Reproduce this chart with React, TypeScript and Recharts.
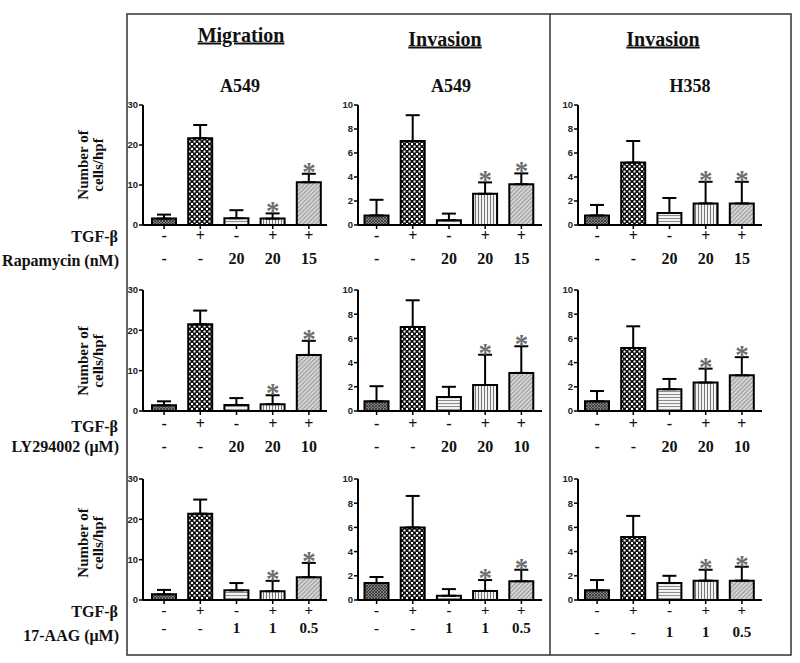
import React from 'react';
import { ComposedChart, Bar, XAxis, YAxis, ErrorBar, Line, Cell } from 'recharts';

// ---------- data ----------
const tgfSigns = ['-', '+', '-', '+', '+'];
const rapamycinDoses = ['-', '-', '20', '20', '15'];
const ly294002Doses = ['-', '-', '20', '20', '10'];
const aagDoses = ['-', '-', '1', '1', '0.5'];
const starFlags = [false, false, false, true, true];

const migRapaMean = [1.6, 21.7, 1.7, 1.6, 10.7];
const migRapaSD = [1.0, 3.3, 2.0, 1.3, 2.1];
const invA549RapaMean = [0.8, 7.0, 0.4, 2.6, 3.4];
const invA549RapaSD = [1.3, 2.15, 0.55, 0.95, 0.9];
const invH358RapaMean = [0.8, 5.2, 1.0, 1.8, 1.8];
const invH358RapaSD = [0.87, 1.8, 1.25, 1.8, 1.8];

const migLyMean = [1.4, 21.5, 1.5, 1.7, 13.9];
const migLySD = [1.0, 3.4, 1.7, 2.2, 3.5];
const invA549LyMean = [0.8, 6.95, 1.15, 2.15, 3.15];
const invA549LySD = [1.25, 2.2, 0.85, 2.5, 2.2];
const invH358LyMean = [0.8, 5.2, 1.8, 2.35, 2.95];
const invH358LySD = [0.85, 1.8, 0.85, 1.15, 1.5];

const migAagMean = [1.4, 21.4, 2.4, 2.2, 5.65];
const migAagSD = [1.1, 3.5, 1.8, 2.55, 3.55];
const invA549AagMean = [1.4, 6.0, 0.35, 0.75, 1.55];
const invA549AagSD = [0.5, 2.6, 0.55, 0.9, 0.95];
const invH358AagMean = [0.8, 5.2, 1.4, 1.6, 1.6];
const invH358AagSD = [0.85, 1.75, 0.6, 0.9, 1.15];

const migTicks = [0, 10, 20, 30];
const invTicks = [0, 2, 4, 6, 8, 10];

const rowLabels = [
  { tgf: 'TGF-β', drug: 'Rapamycin (nM)' },
  { tgf: 'TGF-β', drug: 'LY294002 (μM)' },
  { tgf: 'TGF-β', drug: '17-AAG (μM)' },
];

// ---------- layout ----------
const SERIF = '"Liberation Serif", "Times New Roman", serif';
const SANS = '"Liberation Sans", Arial, sans-serif';
const PATTERNS = ['pDark', 'pChecker', 'pHoriz', 'pVert', 'pDiag'];

const colAxisX = [143, 358, 578];
const colPad = [3, 0.5, 1];
const rowGeom = [
  { top: 105, h: 120, signOff: 16, doseOff: [39, 39, 39], tickFont: 16, tgfY: 242, drugY: 266, labelY: 165 },
  { top: 290, h: 121, signOff: 18, doseOff: [41, 41, 41], tickFont: 16, tgfY: 432, drugY: 452, labelY: 361 },
  { top: 479, h: 121, signOff: 15, doseOff: [33, 33, 37], tickFont: 15, tgfY: 617, drugY: 641, labelY: 543 },
];

const renderStar = (p: any) => {
  if (!p.payload || p.payload.star == null || p.cy == null) return <g key={`s${p.index}`} />;
  return (
    <text key={`s${p.index}`} x={p.cx} y={p.cy + 7} textAnchor="middle" fontSize={27}
      fontWeight="bold" fontFamily={SERIF} fill="#6e6e6e">*</text>
  );
};

function Panel(props: any) {
  const { axisX, plotTop, plotH, means, sds, doses, ticks, yMax, padLeft, signOff, doseOff, tickFont } = props;
  const data = means.map((m: number, i: number) => ({
    cat: 'c' + i,
    value: m,
    err: [0, sds[i]],
    star: starFlags[i] ? m + sds[i] : null,
    tgf: tgfSigns[i],
    dose: doses[i],
  }));
  const axisW = 30, plotW = 184, mTop = 10, xH = 50, mRight = 8;
  const W = axisW + plotW + mRight;
  const H = mTop + plotH + xH;
  const axisY = mTop + plotH;
  const tick = (p: any) => {
    const d = data[p.index];
    if (!d) return <g />;
    return (
      <g>
        <text x={p.x} y={axisY + signOff} textAnchor="middle" fontSize={tickFont} fontWeight="bold"
          fontFamily={SERIF} fill="#111">{d.tgf}</text>
        <text x={p.x} y={axisY + doseOff} textAnchor="middle" fontSize={tickFont} fontWeight="bold"
          fontFamily={SERIF} fill="#111">{d.dose}</text>
      </g>
    );
  };
  return (
    <div style={{ position: 'absolute', left: axisX - axisW, top: plotTop - mTop }}>
      <ComposedChart width={W} height={H} data={data}
        margin={{ top: mTop, right: mRight, bottom: 0, left: 0 }}>
        <XAxis dataKey="cat" height={xH} interval={0}
          padding={{ left: padLeft, right: 3 - padLeft }}
          axisLine={{ stroke: '#000', strokeWidth: 2 }}
          tickLine={{ stroke: '#000', strokeWidth: 1.5 }}
          tickSize={4} tickMargin={0} tick={tick} />
        <YAxis width={axisW} domain={[0, yMax]} ticks={ticks} interval={0}
          axisLine={{ stroke: '#000', strokeWidth: 2 }}
          tickLine={{ stroke: '#000', strokeWidth: 1.5 }}
          tickSize={4} tickMargin={1}
          tick={{ fontSize: 9.5, fontWeight: 'bold', fontFamily: SANS, fill: '#222' }} />
        <Bar dataKey="value" barSize={24} stroke="#000" strokeWidth={2} isAnimationActive={false}>
          {data.map((_: any, i: number) => (
            <Cell key={i} fill={`url(#${PATTERNS[i]})`} />
          ))}
          <ErrorBar dataKey="err" width={7} stroke="#000" strokeWidth={2} direction="y" />
        </Bar>
        <Line dataKey="star" stroke="none" dot={renderStar} activeDot={false}
          isAnimationActive={false} connectNulls={false} />
      </ComposedChart>
    </div>
  );
}

const panelData = [
  [
    { means: migRapaMean, sds: migRapaSD, doses: rapamycinDoses, ticks: migTicks, yMax: 30 },
    { means: invA549RapaMean, sds: invA549RapaSD, doses: rapamycinDoses, ticks: invTicks, yMax: 10 },
    { means: invH358RapaMean, sds: invH358RapaSD, doses: rapamycinDoses, ticks: invTicks, yMax: 10 },
  ],
  [
    { means: migLyMean, sds: migLySD, doses: ly294002Doses, ticks: migTicks, yMax: 30 },
    { means: invA549LyMean, sds: invA549LySD, doses: ly294002Doses, ticks: invTicks, yMax: 10 },
    { means: invH358LyMean, sds: invH358LySD, doses: ly294002Doses, ticks: invTicks, yMax: 10 },
  ],
  [
    { means: migAagMean, sds: migAagSD, doses: aagDoses, ticks: migTicks, yMax: 30 },
    { means: invA549AagMean, sds: invA549AagSD, doses: aagDoses, ticks: invTicks, yMax: 10 },
    { means: invH358AagMean, sds: invH358AagSD, doses: aagDoses, ticks: invTicks, yMax: 10 },
  ],
];

function PatternDefs() {
  return (
    <svg width={0} height={0} style={{ position: 'absolute', left: 0, top: 0 }}>
      <defs>
        <pattern id="pDark" width={3} height={3} patternUnits="userSpaceOnUse">
          <rect width={3} height={3} fill="#808080" />
          <path d="M0,0 L3,3 M3,0 L0,3" stroke="#333" strokeWidth={0.8} />
        </pattern>
        <pattern id="pChecker" width={5} height={5} patternUnits="userSpaceOnUse">
          <rect width={5} height={5} fill="#111" />
          <rect x={0.5} y={0.5} width={2} height={2} fill="#fff" />
          <rect x={3} y={3} width={2} height={2} fill="#fff" />
        </pattern>
        <pattern id="pHoriz" width={4} height={3} patternUnits="userSpaceOnUse">
          <rect width={4} height={3} fill="#f2f2f2" />
          <rect width={4} height={1} fill="#8c8c8c" />
        </pattern>
        <pattern id="pVert" width={3} height={4} patternUnits="userSpaceOnUse">
          <rect width={3} height={4} fill="#f2f2f2" />
          <rect width={1} height={4} fill="#777" />
        </pattern>
        <pattern id="pDiag" width={3} height={3} patternUnits="userSpaceOnUse" patternTransform="rotate(45)">
          <rect width={3} height={3} fill="#d4d4d4" />
          <rect width={1} height={3} fill="#999" />
        </pattern>
      </defs>
    </svg>
  );
}

export default function App() {
  return (
    <div style={{ position: 'absolute', left: 0, top: 0, width: 800, height: 663, background: '#fff', overflow: 'hidden' }}>
      <PatternDefs />
      <svg width={800} height={663} style={{ position: 'absolute', left: 0, top: 0 }}>
        <rect x={127} y={14} width={664} height={641} fill="none" stroke="#333" strokeWidth={1.5} />
        <line x1={550} y1={14} x2={550} y2={655} stroke="#333" strokeWidth={1.5} />
        <text x={241} y={41.5} textAnchor="middle" fontSize={20} fontWeight="bold" fontFamily={SERIF}
          textDecoration="underline" fill="#111">Migration</text>
        <text x={445} y={45.5} textAnchor="middle" fontSize={20} fontWeight="bold" fontFamily={SERIF}
          textDecoration="underline" fill="#111">Invasion</text>
        <text x={663} y={45.5} textAnchor="middle" fontSize={20} fontWeight="bold" fontFamily={SERIF}
          textDecoration="underline" fill="#111">Invasion</text>
        <text x={240} y={92} textAnchor="middle" fontSize={18} fontWeight="bold" fontFamily={SERIF} fill="#111">A549</text>
        <text x={451} y={92} textAnchor="middle" fontSize={18} fontWeight="bold" fontFamily={SERIF} fill="#111">A549</text>
        <text x={690} y={92} textAnchor="middle" fontSize={18} fontWeight="bold" fontFamily={SERIF} fill="#111">H358</text>
        {rowGeom.map((g, r) => (
          <g key={r}>
            <text x={88} y={g.labelY} transform={`rotate(-90, 88, ${g.labelY})`} textAnchor="middle"
              fontSize={15} fontWeight="bold" fontFamily={SERIF} fill="#111">Number of</text>
            <text x={103} y={g.labelY} transform={`rotate(-90, 103, ${g.labelY})`} textAnchor="middle"
              fontSize={15} fontWeight="bold" fontFamily={SERIF} fill="#111">cells/hpf</text>
            <text x={118} y={g.tgfY} textAnchor="end" fontSize={16} fontWeight="bold" fontFamily={SERIF}
              fill="#111">{rowLabels[r].tgf}</text>
            <text x={119} y={g.drugY} textAnchor="end" fontSize={16} fontWeight="bold" fontFamily={SERIF}
              fill="#111">{rowLabels[r].drug}</text>
          </g>
        ))}
      </svg>
      {panelData.map((row, r) =>
        row.map((p, c) => (
          <Panel key={`${r}-${c}`}
            axisX={colAxisX[c]} plotTop={rowGeom[r].top} plotH={rowGeom[r].h}
            means={p.means} sds={p.sds} doses={p.doses} ticks={p.ticks} yMax={p.yMax}
            padLeft={colPad[c]} signOff={rowGeom[r].signOff} doseOff={rowGeom[r].doseOff[c]}
            tickFont={rowGeom[r].tickFont} />
        ))
      )}
    </div>
  );
}
